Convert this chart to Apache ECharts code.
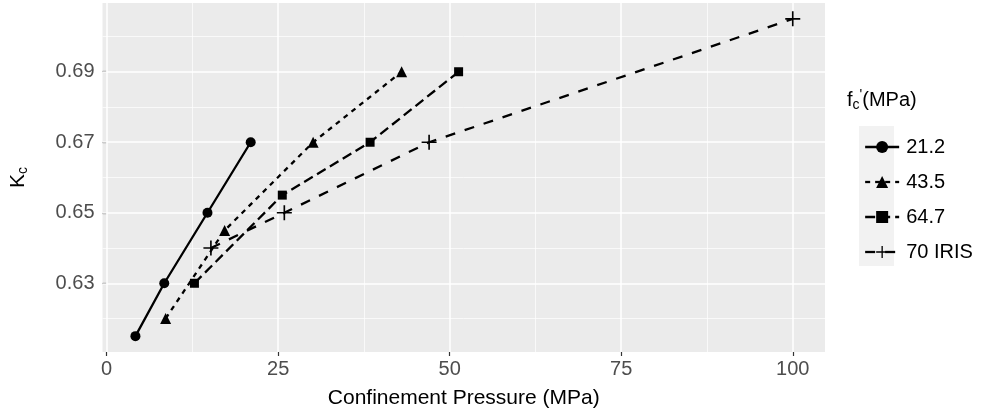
<!DOCTYPE html>
<html>
<head>
<meta charset="utf-8">
<script src="https://cdn.jsdelivr.net/npm/echarts@6/dist/echarts.min.js"></script>
<style>
  html, body { margin: 0; padding: 0; background: #fff; }
  #chart { width: 986px; height: 415px; }
</style>
</head>
<body>
<div id="chart"></div>
<script>
// values
const seriesNames = ['21.2', '43.5', '64.7', '70 IRIS'];
const x212 = [4.2, 8.4, 14.7, 21.0];
const y212 = [0.615, 0.63, 0.65, 0.67];
const x435 = [8.6, 17.2, 30.1, 43.0];
const y435 = [0.62, 0.645, 0.67, 0.69];
const x647 = [12.8, 25.6, 38.4, 51.3];
const y647 = [0.63, 0.655, 0.67, 0.69];
const xIris = [15.2, 25.9, 47.0, 100.0];
const yIris = [0.64, 0.65, 0.67, 0.705];

// axis ticks
const xTicks = [0, 25, 50, 75, 100];
const xMinor = [12.5, 37.5, 62.5, 87.5];
const yTicks = [0.63, 0.65, 0.67, 0.69];
const yMinor = [0.62, 0.64, 0.66, 0.68, 0.70];

const pairs = (xs, ys) => xs.map((x, i) => [x, ys[i]]);

const plusPath = 'path://M-1.1,-10L1.1,-10L1.1,-1.1L10,-1.1L10,1.1L1.1,1.1L1.1,10L-1.1,10L-1.1,1.1L-10,1.1L-10,-1.1L-1.1,-1.1Z';

const lineSeries = (name, data, symbol, size, dash) => ({
  name: name,
  type: 'line',
  data: data,
  symbol: symbol,
  symbolSize: size,
  z: 5,
  itemStyle: { color: '#000' },
  lineStyle: { color: '#000', width: 2.3, type: dash, cap: 'butt' }
});

const gridLine = (axis, v, w) => ({ [axis]: v, lineStyle: { width: w } });

const chart = echarts.init(document.getElementById('chart'));
const option = {
  animation: false,
  backgroundColor: '#fff',
  textStyle: { fontFamily: 'Liberation Sans, Arial, sans-serif' },
  grid: {
    left: 99, right: 161, top: 3, bottom: 63,
    show: true, backgroundColor: '#ebebeb', borderWidth: 0
  },
  xAxis: {
    type: 'value',
    min: -0.6,
    max: 104.7,
    name: 'Confinement Pressure (MPa)',
    nameLocation: 'middle',
    nameGap: 36,
    nameTextStyle: { color: '#000', fontSize: 21 },
    axisLine: { show: false },
    axisTick: { show: true, length: 4, customValues: xTicks, lineStyle: { color: '#333', width: 1.2 } },
    axisLabel: { customValues: xTicks, color: '#4d4d4d', fontSize: 20, margin: 7 },
    splitLine: { show: false }
  },
  yAxis: {
    type: 'value',
    min: 0.6105,
    max: 0.7095,
    name: '{k|K}{s|c}',
    nameLocation: 'middle',
    nameGap: 72,
    nameTextStyle: {
      color: '#000',
      rich: {
        k: { fontSize: 21, color: '#000' },
        s: { fontSize: 14, color: '#000', padding: [10, 0, 0, 0] }
      }
    },
    axisLine: { show: false },
    axisTick: { show: true, length: 4, customValues: yTicks, lineStyle: { color: '#333', width: 1.2 } },
    axisLabel: {
      customValues: yTicks, color: '#4d4d4d', fontSize: 20, margin: 8,
      formatter: v => v.toFixed(2)
    },
    splitLine: { show: false }
  },
  legend: {
    orient: 'vertical',
    left: 859,
    top: 132,
    itemWidth: 34,
    itemHeight: 15,
    itemGap: 15,
    data: seriesNames,
    lineStyle: { width: 2.3 },
    textStyle: { color: '#000', fontSize: 20, padding: [0, 0, 0, 2] }
  },
  graphic: [
    {
      type: 'rect',
      left: 859, top: 126,
      shape: { width: 35, height: 140 },
      style: { fill: '#f2f2f2' },
      z: -1
    },
    {
      type: 'text',
      left: 847, top: 88,
      style: {
        text: '{f|f}{c|c}{p|\'}{f|(MPa)}',
        rich: {
          f: { fontSize: 20, fill: '#000' },
          c: { fontSize: 14, fill: '#000', padding: [10, 0, 0, 0] },
          p: { fontSize: 14, fill: '#000', padding: [0, 0, 10, 0] }
        }
      }
    }
  ],
  series: [
    {
      name: 'grid',
      type: 'line',
      data: [],
      z: 1,
      silent: true,
      markLine: {
        silent: true,
        symbol: ['none', 'none'],
        label: { show: false },
        lineStyle: { color: '#fff', type: 'solid' },
        data: [
          ...xMinor.map(v => gridLine('xAxis', v, 0.7)),
          ...yMinor.map(v => gridLine('yAxis', v, 0.7)),
          ...xTicks.map(v => gridLine('xAxis', v, 1.5)),
          ...yTicks.map(v => gridLine('yAxis', v, 1.5))
        ]
      }
    },
    lineSeries('21.2', pairs(x212, y212), 'circle', 10, 'solid'),
    lineSeries('43.5', pairs(x435, y435), 'triangle', 11, [5, 5]),
    lineSeries('64.7', pairs(x647, y647), 'rect', 9, [10, 5]),
    lineSeries('70 IRIS', pairs(xIris, yIris), plusPath, 15, [10, 10])
  ]
};
chart.setOption(option);
</script>
</body>
</html>
